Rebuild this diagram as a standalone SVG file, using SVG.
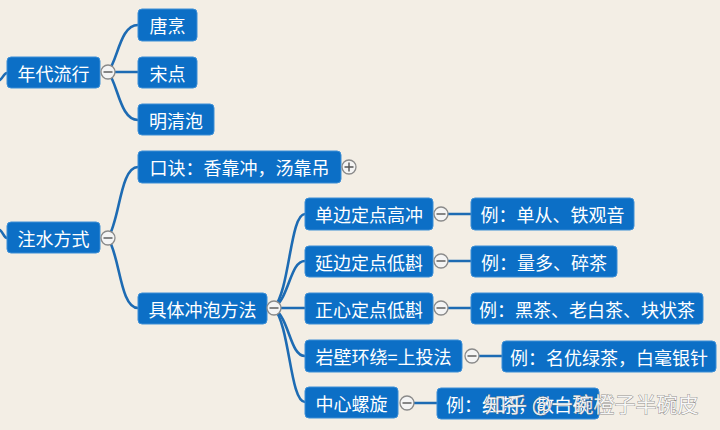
<svg xmlns="http://www.w3.org/2000/svg" width="720" height="430" viewBox="0 0 720 430">
<style>
.bg{fill:#f3eee5}
.n rect{fill:#0c6fc6;stroke:#3d8fd6;stroke-width:1}
.n text{fill:#ffffff;font-family:"Noto Sans CJK SC","Noto Sans",sans-serif;font-size:18px;text-anchor:middle;dominant-baseline:central}
.c path{fill:none;stroke:#1d6bb3;stroke-width:2.6;stroke-linecap:round}
.t circle{fill:#f4f4f4;stroke:#8a8a8a;stroke-width:1.3}
.t path{stroke:#555;stroke-width:1.4;fill:none}
.wm{font-family:"Noto Sans CJK SC","Noto Sans",sans-serif;font-size:21px;fill:#ffffff;fill-opacity:0.9;stroke:#6f6f6f;stroke-width:0.9;stroke-opacity:0.75;paint-order:stroke}
</style>
<rect class="bg" x="0" y="0" width="720" height="430"/>
<g id="connectors" class="c">
<path d="M0,80 C3,78 4,73 7,73"/>
<path d="M0,230 C3,232 4,238 7,238"/>
<path d="M108,72 C118,60 120,25 138,25"/>
<path d="M108,72 L138,72"/>
<path d="M108,72 C118,84 120,120 138,120"/>
<path d="M108,238 C120,220 120,167 138,167"/>
<path d="M108,238 C120,256 120,308 138,308"/>
<path d="M274,308 C290,290 290,214 305,214"/>
<path d="M274,308 C290,296 290,261 305,261"/>
<path d="M274,308 L305,308"/>
<path d="M274,308 C290,320 290,356 305,356"/>
<path d="M274,308 C290,326 290,402 305,402"/>
<path d="M441,214 L471,214"/>
<path d="M441,261 L471,261"/>
<path d="M441,308 L471,308"/>
<path d="M472,356 L502,356"/>
<path d="M407,403 L437,403"/>
</g>
<g id="n-niandai" class="n"><rect x="7" y="57" width="93" height="31" rx="4"/><text x="53.5" y="72.5">年代流行</text></g>
<g id="n-tangpeng" class="n"><rect x="138" y="9" width="59" height="32" rx="4"/><text x="167.5" y="25">唐烹</text></g>
<g id="n-songdian" class="n"><rect x="138" y="57" width="59" height="31" rx="4"/><text x="167.5" y="72.5">宋点</text></g>
<g id="n-mingqing" class="n"><rect x="138" y="104" width="76" height="31" rx="4"/><text x="176" y="119.5">明清泡</text></g>
<g id="n-zhushui" class="n"><rect x="7" y="222" width="93" height="31" rx="4"/><text x="53.5" y="237.5">注水方式</text></g>
<g id="n-koujue" class="n"><rect x="138" y="151" width="203" height="32" rx="4"/><text x="239.5" y="167">口诀：香靠冲，汤靠吊</text></g>
<g id="n-juti" class="n"><rect x="138" y="293" width="129" height="31" rx="4"/><text x="202.5" y="308.5">具体冲泡方法</text></g>
<g id="n-danbian" class="n"><rect x="305" y="198" width="128" height="32" rx="4"/><text x="369" y="214">单边定点高冲</text></g>
<g id="n-yanbian" class="n"><rect x="305" y="246" width="128" height="31" rx="4"/><text x="369" y="261.5">延边定点低斟</text></g>
<g id="n-zhengxin" class="n"><rect x="305" y="293" width="128" height="31" rx="4"/><text x="369" y="308.5">正心定点低斟</text></g>
<g id="n-yanbi" class="n"><rect x="305" y="340" width="157" height="32" rx="4"/><text x="383.5" y="356">岩壁环绕=上投法</text></g>
<g id="n-zhongxin" class="n"><rect x="305" y="387" width="93" height="31" rx="4"/><text x="351.5" y="402.5">中心螺旋</text></g>
<g id="n-ex1" class="n"><rect x="471" y="198" width="163" height="32" rx="4"/><text x="552.5" y="214">例：单从、铁观音</text></g>
<g id="n-ex2" class="n"><rect x="471" y="246" width="146" height="31" rx="4"/><text x="544" y="261.5">例：量多、碎茶</text></g>
<g id="n-ex3" class="n"><rect x="471" y="293" width="232" height="31" rx="4"/><text x="587" y="308.5">例：黑茶、老白茶、块状茶</text></g>
<g id="n-ex4" class="n"><rect x="502" y="341" width="214" height="31" rx="4"/><text x="609" y="356.5">例：名优绿茶，白毫银针</text></g>
<g id="n-ex5" class="n"><rect x="437" y="388" width="162" height="31" rx="4"/><text x="518" y="403.5">例：红茶，散白茶</text></g>
<g id="toggles" class="t">
<circle cx="108" cy="72" r="7"/><path d="M103.5,72 H112.5"/>
<circle cx="108" cy="238" r="7"/><path d="M103.5,238 H112.5"/>
<circle cx="274" cy="308" r="7"/><path d="M269.5,308 H278.5"/>
<circle cx="441" cy="214" r="7"/><path d="M436.5,214 H445.5"/>
<circle cx="441" cy="261" r="7"/><path d="M436.5,261 H445.5"/>
<circle cx="441" cy="308" r="7"/><path d="M436.5,308 H445.5"/>
<circle cx="472" cy="356" r="7"/><path d="M467.5,356 H476.5"/>
<circle cx="407" cy="403" r="7"/><path d="M402.5,403 H411.5"/>
<circle cx="349" cy="167" r="7"/><path d="M344.5,167 H353.5 M349,162.5 V171.5"/>
</g>
<text class="wm" x="485" y="412">知乎 @一碗橙子半碗皮</text>
</svg>
